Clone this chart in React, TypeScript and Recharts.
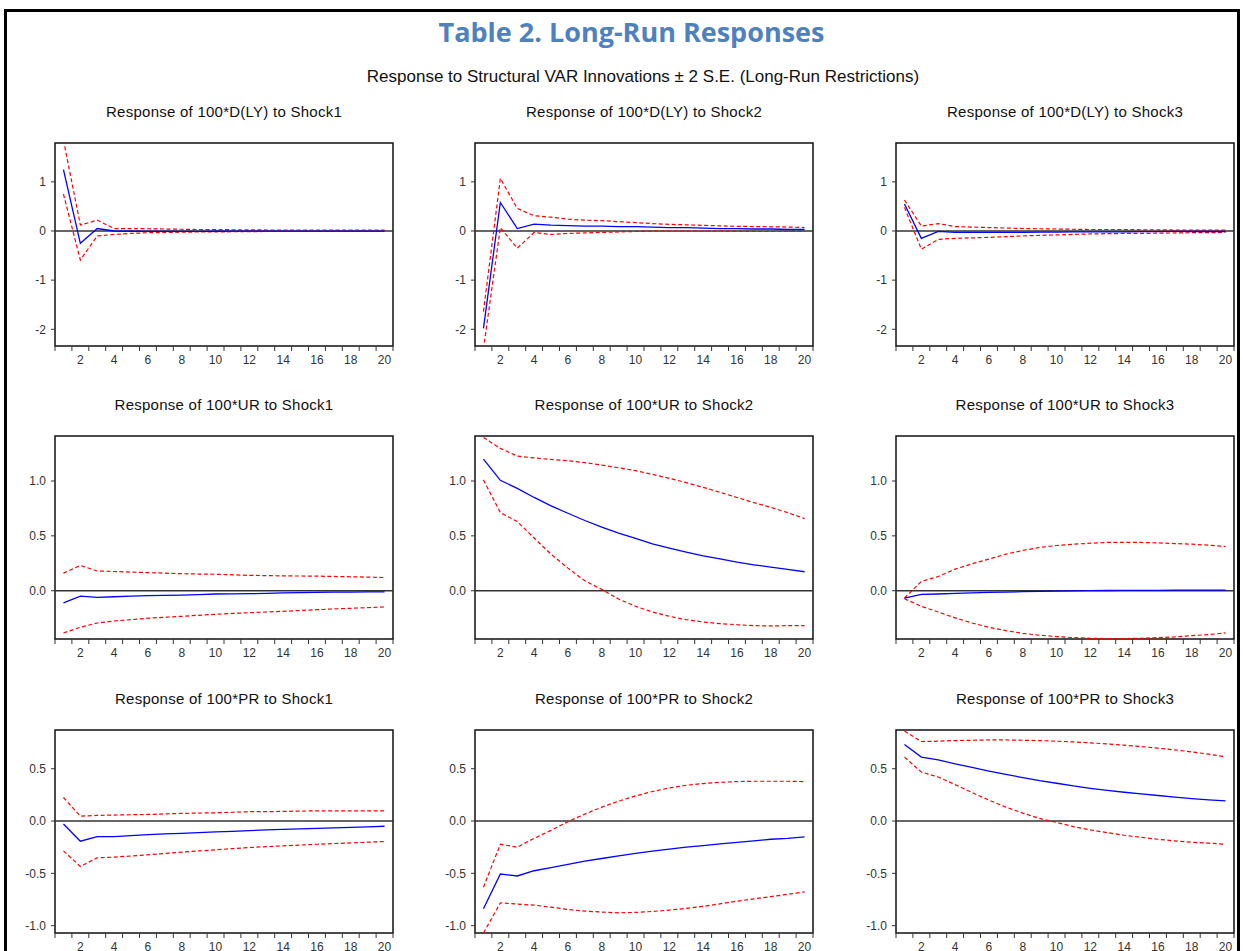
import { LineChart, Line, XAxis, YAxis, ReferenceLine, ReferenceArea } from 'recharts'

// impulse horizon
const periods = [1, 2, 3, 4, 5, 6, 7, 8, 9, 10, 11, 12, 13, 14, 15, 16, 17, 18, 19, 20]

const variables = ['100*D(LY)', '100*UR', '100*PR']
const shocks = ['Shock1', 'Shock2', 'Shock3']

const rowTicks = [
  [-2, -1, 0, 1],
  [0, 0.5, 1],
  [-1, -0.5, 0, 0.5],
]
const rowDomains = [
  [-2.34, 1.79],
  [-0.44, 1.41],
  [-1.07, 0.87],
]

// 100*D(LY)
const dlyShock1 = [1.25, -0.25, 0.05, 0.0, -0.005, -0.008, -0.008, -0.008, -0.006, -0.005, -0.004, -0.004, -0.003, -0.003, -0.002, -0.002, -0.002, -0.001, -0.001, -0.001]
const dlyShock1Up = [1.85, 0.12, 0.22, 0.05, 0.05, 0.045, 0.04, 0.035, 0.03, 0.03, 0.025, 0.025, 0.02, 0.02, 0.02, 0.02, 0.02, 0.02, 0.02, 0.02]
const dlyShock1Lo = [0.75, -0.59, -0.1, -0.07, -0.05, -0.035, -0.03, -0.025, -0.02, -0.02, -0.015, -0.015, -0.01, -0.01, -0.01, -0.01, -0.01, -0.01, -0.005, -0.005]

const dlyShock2 = [-1.98, 0.58, 0.05, 0.14, 0.12, 0.11, 0.1, 0.1, 0.09, 0.09, 0.08, 0.07, 0.07, 0.06, 0.05, 0.05, 0.04, 0.04, 0.03, 0.03]
const dlyShock2Up = [-1.64, 1.07, 0.46, 0.31, 0.28, 0.24, 0.22, 0.21, 0.19, 0.17, 0.15, 0.135, 0.125, 0.115, 0.105, 0.095, 0.09, 0.085, 0.08, 0.07]
const dlyShock2Lo = [-2.4, 0.07, -0.35, -0.03, -0.07, -0.05, -0.04, -0.03, -0.02, -0.01, 0, 0, 0, 0, 0, -0.005, -0.01, -0.01, -0.01, -0.01]

const dlyShock3 = [0.55, -0.15, -0.01, -0.03, -0.03, -0.03, -0.03, -0.03, -0.025, -0.025, -0.02, -0.02, -0.02, -0.02, -0.015, -0.015, -0.01, -0.01, -0.01, -0.01]
const dlyShock3Up = [0.63, 0.1, 0.15, 0.09, 0.08, 0.07, 0.06, 0.05, 0.045, 0.04, 0.035, 0.03, 0.03, 0.03, 0.025, 0.025, 0.02, 0.02, 0.02, 0.02]
const dlyShock3Lo = [0.48, -0.37, -0.17, -0.15, -0.14, -0.13, -0.115, -0.1, -0.09, -0.08, -0.07, -0.06, -0.055, -0.05, -0.05, -0.045, -0.04, -0.035, -0.035, -0.03]

// 100*UR
const urShock1 = [-0.11, -0.05, -0.06, -0.055, -0.05, -0.045, -0.042, -0.04, -0.035, -0.03, -0.028, -0.027, -0.024, -0.02, -0.018, -0.015, -0.013, -0.012, -0.011, -0.01]
const urShock1Up = [0.16, 0.23, 0.18, 0.175, 0.17, 0.165, 0.16, 0.155, 0.152, 0.15, 0.145, 0.14, 0.138, 0.135, 0.134, 0.133, 0.13, 0.127, 0.124, 0.12]
const urShock1Lo = [-0.385, -0.333, -0.294, -0.276, -0.264, -0.25, -0.242, -0.233, -0.224, -0.215, -0.207, -0.2, -0.194, -0.188, -0.18, -0.173, -0.166, -0.16, -0.154, -0.148]

const urShock2 = [1.2, 1.006, 0.933, 0.85, 0.773, 0.706, 0.64, 0.58, 0.524, 0.476, 0.427, 0.388, 0.352, 0.318, 0.29, 0.26, 0.236, 0.215, 0.194, 0.173]
const urShock2Up = [1.397, 1.297, 1.227, 1.21, 1.197, 1.185, 1.167, 1.145, 1.12, 1.094, 1.06, 1.024, 0.985, 0.942, 0.897, 0.85, 0.803, 0.76, 0.712, 0.657]
const urShock2Lo = [1.01, 0.712, 0.63, 0.48, 0.333, 0.206, 0.09, 0.012, -0.076, -0.142, -0.194, -0.233, -0.264, -0.285, -0.3, -0.31, -0.318, -0.321, -0.318, -0.318]

const urShock3 = [-0.067, -0.033, -0.03, -0.024, -0.02, -0.015, -0.012, -0.009, -0.006, -0.003, -0.001, 0, 0.002, 0.003, 0.003, 0.003, 0.005, 0.006, 0.006, 0.006]
const urShock3Up = [-0.067, 0.085, 0.13, 0.197, 0.245, 0.288, 0.333, 0.367, 0.394, 0.412, 0.424, 0.433, 0.44, 0.44, 0.44, 0.436, 0.43, 0.424, 0.415, 0.403]
const urShock3Lo = [-0.073, -0.142, -0.194, -0.248, -0.294, -0.333, -0.364, -0.388, -0.406, -0.418, -0.427, -0.433, -0.436, -0.436, -0.433, -0.427, -0.421, -0.409, -0.4, -0.385]

// 100*PR
const prShock1 = [-0.028, -0.193, -0.149, -0.149, -0.139, -0.13, -0.123, -0.117, -0.11, -0.104, -0.098, -0.092, -0.085, -0.079, -0.075, -0.07, -0.065, -0.06, -0.055, -0.05]
const prShock1Up = [0.225, 0.047, 0.054, 0.057, 0.06, 0.063, 0.068, 0.073, 0.076, 0.079, 0.084, 0.089, 0.09, 0.092, 0.095, 0.098, 0.098, 0.098, 0.098, 0.098]
const prShock1Lo = [-0.285, -0.434, -0.351, -0.345, -0.334, -0.323, -0.31, -0.297, -0.286, -0.275, -0.264, -0.253, -0.245, -0.237, -0.23, -0.222, -0.215, -0.209, -0.202, -0.196]

const prShock2 = [-0.839, -0.506, -0.525, -0.475, -0.446, -0.415, -0.383, -0.358, -0.332, -0.31, -0.288, -0.269, -0.25, -0.234, -0.218, -0.203, -0.19, -0.174, -0.165, -0.152]
const prShock2Up = [-0.633, -0.222, -0.25, -0.165, -0.089, -0.006, 0.066, 0.133, 0.19, 0.24, 0.282, 0.316, 0.342, 0.358, 0.37, 0.377, 0.38, 0.38, 0.38, 0.377]
const prShock2Lo = [-1.07, -0.782, -0.794, -0.804, -0.823, -0.845, -0.861, -0.87, -0.877, -0.873, -0.864, -0.851, -0.835, -0.816, -0.791, -0.766, -0.744, -0.722, -0.7, -0.677]

const prShock3 = [0.731, 0.611, 0.585, 0.547, 0.513, 0.478, 0.446, 0.415, 0.386, 0.361, 0.335, 0.313, 0.294, 0.275, 0.259, 0.244, 0.228, 0.215, 0.203, 0.193]
const prShock3Up = [0.86, 0.76, 0.763, 0.769, 0.772, 0.775, 0.775, 0.772, 0.769, 0.763, 0.756, 0.747, 0.737, 0.725, 0.712, 0.696, 0.68, 0.661, 0.639, 0.614]
const prShock3Lo = [0.611, 0.468, 0.421, 0.348, 0.272, 0.2, 0.133, 0.076, 0.025, -0.013, -0.054, -0.085, -0.111, -0.136, -0.155, -0.174, -0.19, -0.203, -0.212, -0.222]

const panels = [
  [
    [dlyShock1, dlyShock1Up, dlyShock1Lo],
    [dlyShock2, dlyShock2Up, dlyShock2Lo],
    [dlyShock3, dlyShock3Up, dlyShock3Lo],
  ],
  [
    [urShock1, urShock1Up, urShock1Lo],
    [urShock2, urShock2Up, urShock2Lo],
    [urShock3, urShock3Up, urShock3Lo],
  ],
  [
    [prShock1, prShock1Up, prShock1Lo],
    [prShock2, prShock2Up, prShock2Lo],
    [prShock3, prShock3Up, prShock3Lo],
  ],
]

// layout
const plotLefts = [55, 475, 896]
const plotTops = [143, 436, 730]
const plotW = 338
const plotH = 203
const yAxisW = 45
const mTop = 10
const mRight = 12
const xAxisH = 25

const xTicks = periods.flatMap((p) => [p - 0.5, p]).concat([20.5])

function PeriodTick(props: any) {
  const { x, y, payload } = props
  const v = payload.value
  if (!Number.isInteger(v)) {
    return <line x1={x} y1={y} x2={x} y2={y + 5} stroke="#333" strokeWidth={1} />
  }
  if (v % 2 !== 0) return <g />
  return (
    <text x={x} y={y + 18} textAnchor="middle" fontSize={12} fill="#333">
      {v}
    </text>
  )
}

function Panel({ row, col }: { row: number; col: number }) {
  const [resp, up, lo] = panels[row][col]
  const data = periods.map((p, i) => ({ period: p, resp: resp[i], up: up[i], lo: lo[i] }))
  const dom = rowDomains[row]
  const fmt = (v: number) => (row === 0 ? String(v) : v.toFixed(1))
  return (
    <div
      style={{
        position: 'absolute',
        left: plotLefts[col] - yAxisW,
        top: plotTops[row] - mTop,
      }}
    >
      <LineChart
        width={yAxisW + plotW + mRight}
        height={mTop + plotH + xAxisH}
        data={data}
        margin={{ top: mTop, right: mRight, bottom: 0, left: 0 }}
      >
        <XAxis
          dataKey="period"
          type="number"
          domain={[0.5, 20.5]}
          ticks={xTicks}
          interval={0}
          height={xAxisH}
          axisLine={false}
          tickLine={false}
          tickSize={0}
          tickMargin={0}
          tick={<PeriodTick />}
        />
        <YAxis
          type="number"
          domain={dom}
          ticks={rowTicks[row]}
          allowDataOverflow
          width={yAxisW}
          axisLine={false}
          tickLine={{ stroke: '#333' }}
          tickSize={4}
          tickMargin={5}
          tickFormatter={fmt}
          tick={{ fontSize: 12, fill: '#333' }}
        />
        <ReferenceLine y={0} stroke="#333" strokeWidth={1.4} />
        <Line dataKey="up" stroke="#ff0000" strokeWidth={1.2} strokeDasharray="4 2.5" dot={false} isAnimationActive={false} />
        <Line dataKey="lo" stroke="#ff0000" strokeWidth={1.2} strokeDasharray="4 2.5" dot={false} isAnimationActive={false} />
        <Line dataKey="resp" stroke="#0000ff" strokeWidth={1.3} dot={false} isAnimationActive={false} />
        <ReferenceArea
          x1={0.5}
          x2={20.5}
          y1={dom[0]}
          y2={dom[1]}
          fill="none"
          stroke="#111"
          strokeWidth={1.5}
          ifOverflow="visible"
        />
      </LineChart>
    </div>
  )
}

export default function App() {
  return (
    <div
      style={{
        position: 'absolute',
        left: 0,
        top: 0,
        width: 1243,
        height: 951,
        background: '#fff',
        overflow: 'hidden',
        fontFamily: '"Liberation Sans", Arial, sans-serif',
        color: '#111',
      }}
    >
      {/* outer frame */}
      <div
        style={{
          position: 'absolute',
          left: 4,
          top: 9,
          width: 1236,
          height: 960,
          borderTop: '3px solid #000',
          borderLeft: '3px solid #000',
          borderRight: '3px solid #000',
          boxSizing: 'border-box',
        }}
      />
      <div
        style={{
          position: 'absolute',
          left: 20,
          top: 17,
          width: 1223,
          textAlign: 'center',
          fontFamily: '"Open Sans", sans-serif',
          fontWeight: 700,
          fontSize: 27,
          lineHeight: '30px',
          color: '#4f81bd',
        }}
      >
        Table 2. Long-Run Responses
      </div>
      <div
        style={{
          position: 'absolute',
          left: 43,
          top: 67,
          width: 1200,
          textAlign: 'center',
          fontSize: 17,
          lineHeight: '20px',
        }}
      >
        Response to Structural VAR Innovations ± 2 S.E. (Long-Run Restrictions)
      </div>
      {variables.map((v, row) =>
        shocks.map((s, col) => (
          <div key={`t${row}${col}`}>
            <div
              style={{
                position: 'absolute',
                left: plotLefts[col] - 60,
                width: plotW + 120,
                top: plotTops[row] - 40,
                lineHeight: '18px',
                textAlign: 'center',
                fontSize: 15,
                letterSpacing: 0.25,
              }}
            >
              Response of {v} to {s}
            </div>
            <Panel row={row} col={col} />
          </div>
        ))
      )}
    </div>
  )
}
